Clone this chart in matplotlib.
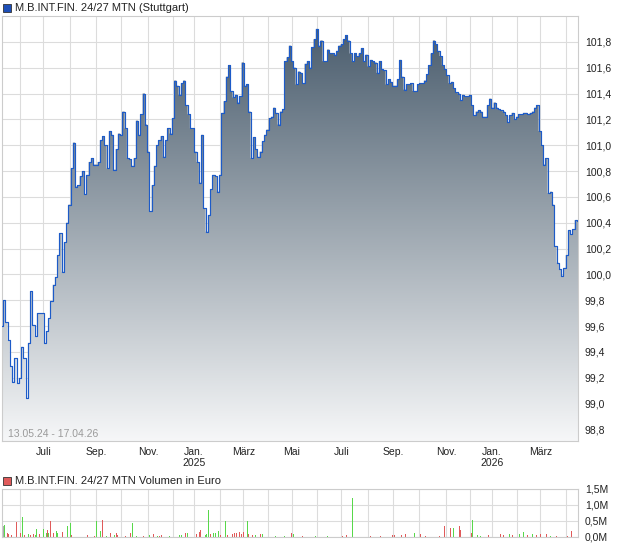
import matplotlib
matplotlib.use('Agg')
import matplotlib.pyplot as plt
import numpy as np
import pandas as pd
from matplotlib.colors import LinearSegmentedColormap
from matplotlib.patches import Rectangle

plt.rcParams['font.family'] = ['Liberation Sans', 'DejaVu Sans']

# trading calendar (Stuttgart closing days)
start, end = '2024-05-13', '2026-04-17'
holidays = ['2024-12-24', '2024-12-25', '2024-12-26', '2024-12-31', '2025-01-01',
            '2025-04-18', '2025-04-21', '2025-05-01', '2025-12-24', '2025-12-25',
            '2025-12-26', '2025-12-31', '2026-01-01', '2026-04-03', '2026-04-06']

# closing prices, read roughly every 2 trading days
price = [
    99.60, 99.80, 99.63, 99.49, 99.29, 99.17, 99.35, 99.16, 99.20, 99.44,
    99.35, 99.04, 99.47, 99.87, 99.61, 99.52, 99.70, 99.70, 99.70, 99.47,
    99.56, 99.66, 99.79, 99.92, 99.98, 100.15, 100.32, 100.02, 100.25, 100.40,
    100.54, 100.82, 101.02, 100.68, 100.69, 100.76, 100.80, 100.62, 100.77, 100.87,
    100.90, 100.85, 100.85, 100.87, 101.04, 101.07, 101.00, 100.82, 101.11, 101.08,
    100.81, 100.97, 101.09, 101.08, 101.26, 101.13, 100.90, 100.89, 100.84, 100.90,
    101.19, 101.08, 101.24, 101.40, 101.16, 100.95, 100.49, 100.69,
    100.84, 101.00, 101.04, 101.07, 100.91, 101.04, 101.13, 101.09, 101.21, 101.50,
    101.46, 101.39, 101.48, 101.50, 101.31, 101.24, 101.13, 101.13, 100.95, 100.87,
    100.71, 101.08, 100.51, 100.33, 100.46, 100.66, 100.77, 100.76, 100.64, 100.77,
    101.25, 101.34, 101.53, 101.62, 101.42, 101.37, 101.39, 101.33, 101.38, 101.64,
    101.46, 101.47, 101.26, 100.90, 101.06, 100.97, 100.91, 100.95, 101.03, 101.08,
    101.12, 101.21, 101.22, 101.29, 101.25, 101.16, 101.26, 101.28, 101.65, 101.68,
    101.77, 101.65, 101.60, 101.47,
    101.57, 101.56, 101.48, 101.63, 101.65, 101.60, 101.76, 101.82, 101.90, 101.77,
    101.81, 101.65, 101.65, 101.74, 101.71, 101.71, 101.70, 101.73, 101.77, 101.78,
    101.82, 101.85, 101.81, 101.71, 101.65, 101.71, 101.69, 101.71, 101.75, 101.65,
    101.70, 101.61, 101.66, 101.65, 101.64, 101.56, 101.65, 101.59, 101.58, 101.47,
    101.51, 101.49, 101.46, 101.46, 101.51, 101.66, 101.53, 101.43, 101.47, 101.47,
    101.48, 101.42, 101.42, 101.47, 101.48, 101.48, 101.50, 101.55, 101.62, 101.71,
    101.81, 101.78, 101.73,
    101.69, 101.62, 101.59, 101.54, 101.48, 101.49, 101.44, 101.41, 101.40, 101.35,
    101.39, 101.38, 101.38, 101.39, 101.31, 101.23, 101.26, 101.27, 101.26, 101.22,
    101.22, 101.31, 101.36, 101.29, 101.33, 101.29, 101.28, 101.27, 101.26, 101.23,
    101.18, 101.23, 101.25, 101.20, 101.22, 101.24, 101.24, 101.25, 101.25, 101.24,
    101.25, 101.26, 101.29, 101.31, 101.11, 101.00, 100.85, 100.90, 100.63, 100.64,
    100.54, 100.22, 100.09, 100.04, 99.99, 100.05, 100.15, 100.34, 100.31, 100.35,
    100.42, 100.41,
]

# daily turnover in Mio. Euro (trading day index, value, 1 = up / 0 = down / -1 = n.a.)
vol_day = [1, 2, 4, 5, 8, 12, 15, 17, 19, 22, 24, 26, 28, 29, 31, 35, 37, 38, 39, 41,
           43, 46, 47, 51, 55, 58, 59, 72, 78, 80, 83, 85, 88, 92, 95, 97, 98, 104,
           109, 110, 114, 120, 125, 128, 132, 133, 135, 142, 150, 152, 155, 157, 165,
           167, 168, 172, 173, 175, 177, 179, 181, 183, 185, 189, 191, 195, 197, 199,
           201, 203, 205, 208, 209, 212, 215, 219, 221, 232, 239, 245, 247, 255, 266,
           276, 289, 292, 297, 312, 321, 331, 333, 339, 342, 350, 355, 359, 371, 375,
           380, 383, 388, 389, 398, 399, 403, 406, 413, 423, 425, 430, 433, 439, 442,
           446, 450, 453, 457, 462, 465, 470, 480, 483]
vol_mio = [0.33, 0.36, 0.14, 0.08, 0.07, 0.46, 0.11, 0.63, 0.05, 0.08, 0.05, 0.08,
           0.05, 0.25, 0.08, 0.25, 0.11, 0.21, 0.11, 0.51, 0.11, 0.18, 0.14, 0.16,
           0.35, 0.45, 0.05, 0.05, 0.03, 0.49, 0.18, 0.54, 0.03, 0.11, 0.05, 0.14,
           0.05, 0.03, 0.14, 0.45, 0.03, 0.03, 0.05, 0.08, 0.03, 0.03, 0.05, 0.03,
           0.05, 0.05, 0.14, 0.11, 0.09, 0.16, 0.22, 0.05, 0.08, 0.84, 0.08, 0.11,
           0.13, 0.18, 0.05, 0.51, 0.05, 0.08, 0.11, 0.11, 0.16, 0.08, 0.16, 0.51,
           0.08, 0.05, 0.05, 0.08, 0.10, 0.03, 0.03, 0.11, 0.08, 0.03, 0.03, 0.03,
           0.03, 0.05, 1.22, 0.03, 0.03, 0.05, 0.05, 0.05, 0.08, 0.11, 0.08, 0.03,
           0.03, 0.35, 0.27, 0.29, 0.33, 0.22, 0.11, 0.53, 0.05, 0.03, 0.05, 0.08,
           0.05, 0.08, 0.05, 0.08, 0.16, 0.05, 0.08, 0.05, 0.08, 0.08, 0.03, 0.03,
           0.03, 0.18]
vol_up = [-1, 1, 0, 0, 0, 0, 0, 1, 0, 1, 0, 0, 1, 1, 0, 1, 1, 0, 1, 0,
          0, 1, 1, 0, 1, 1, 0, 0, 0, 1, 1, 0, 1, 0, 1, 0, 0, 0,
          0, 1, 1, 0, 1, 0, 1, 0, 0, 1, 1, 1, 0, 1, 0,
          0, 0, 1, 1, 1, 0, 1, 1, 1, 0, 1, 0, 0, 0, 0,
          0, 0, 0, 1, 0, 0, 1, 0, 1, 1, 1, 0, 1, 0, 1,
          1, 0, 0, 1, 0, 0, 0, 0, 0, 0, 1, 0, 0, 0, 0,
          0, 1, 0, 0, 0, 1, 1, 1, 0, 0, 0, 1, 0, 1, 1,
          0, 1, 0, 0, 0, 1, 0, 0, 0]

month_labels = ['Juli', 'Sep.', 'Nov.', 'Jan.\n2025', 'März', 'Mai',
                'Juli', 'Sep.', 'Nov.', 'Jan.\n2026', 'März']

days = pd.bdate_range(start, end, freq='C', holidays=holidays)
n = len(days)
month_idx = [i for i in range(1, n) if days[i].month != days[i - 1].month]
xt_labels = [''] * len(month_idx)
xt_labels[1::2] = month_labels

x = np.linspace(0, n - 1, len(price))
ymin, ymax = 98.71, 102.0
grid_c = '#dcdcdc'

fig = plt.figure(figsize=(6.2, 5.46), dpi=100)
ax = fig.add_axes([2 / 620, 1 - 441 / 546, 576 / 620, 425 / 546])

# gradient area under the price line
cmap = LinearSegmentedColormap.from_list('g', ['#f6f7f8', '#46596a'])
poly = ax.fill_between(x, price, ymin, step='mid', facecolor='none', edgecolor='none')
grad = np.linspace(0, 1, 256).reshape(-1, 1)
im = ax.imshow(grad, extent=[0, n - 1, ymin, ymax], origin='lower', aspect='auto',
               cmap=cmap, zorder=1)
im.set_clip_path(poly.get_paths()[0], transform=ax.transData)
ax.plot(x, price, drawstyle='steps-mid', color='#1d5bc8', lw=0.85, zorder=3)

ax.set_xlim(0, n - 1)
ax.set_ylim(ymin, ymax)
ax.set_xticks(month_idx)
ax.set_xticklabels(xt_labels)
yt = np.arange(98.8, 101.85, 0.2)
ax.set_yticks(yt)
ax.set_yticklabels([f'{v:.1f}'.replace('.', ',') for v in yt])
ax.yaxis.tick_right()
ax.tick_params(axis='y', length=0, pad=5, labelsize=7.5, colors='#222222')
ax.tick_params(axis='x', length=0, pad=4, labelsize=7.5, colors='#222222')
ax.grid(True, color=grid_c, lw=0.8, zorder=0)
ax.set_axisbelow(True)
for s in ax.spines.values():
    s.set_color('#cccccc')
    s.set_linewidth(0.8)
ax.text(6 / 576, 7 / 425, '13.05.24 - 17.04.26', transform=ax.transAxes,
        fontsize=7.5, color='#9a9a9a', va='center', ha='left')

fig.add_artist(Rectangle((3 / 620, 1 - 12 / 546), 8 / 620, 8 / 546,
                         transform=fig.transFigure, fc='#1d4fb8', ec='#333333', lw=0.6))
fig.text(15 / 620, 1 - 8 / 546, 'M.B.INT.FIN. 24/27 MTN (Stuttgart)',
         fontsize=8, va='center', ha='left', color='#222222')

# volume panel
ax2 = fig.add_axes([2 / 620, 1 - 537 / 546, 576 / 620, 48 / 546])
cols = ['#58d84a' if u == 1 else ('#e05a5a' if u == 0 else '#aaaaaa') for u in vol_up]
ax2.vlines(vol_day, 0, vol_mio, colors=cols, lw=0.72, antialiased=False, zorder=2)
ax2.set_xlim(0, n - 1)
ax2.set_ylim(0, 1.5)
ax2.set_xticks(month_idx)
ax2.set_xticklabels([])
ax2.set_yticks([0, 0.5, 1.0, 1.5])
ax2.set_yticklabels(['0,0M', '0,5M', '1,0M', '1,5M'])
ax2.yaxis.tick_right()
ax2.tick_params(axis='y', length=0, pad=5, labelsize=7.5, colors='#222222')
ax2.tick_params(axis='x', length=0)
ax2.grid(True, color=grid_c, lw=0.8, zorder=0)
ax2.set_axisbelow(True)
for s in ax2.spines.values():
    s.set_color('#cccccc')
    s.set_linewidth(0.8)

fig.add_artist(Rectangle((3 / 620, 1 - 485 / 546), 8 / 620, 8 / 546,
                         transform=fig.transFigure, fc='#e05a5a', ec='#333333', lw=0.6))
fig.text(15 / 620, 1 - 481 / 546, 'M.B.INT.FIN. 24/27 MTN Volumen in Euro',
         fontsize=8, va='center', ha='left', color='#222222')

fig.savefig('out.png', dpi=100)
